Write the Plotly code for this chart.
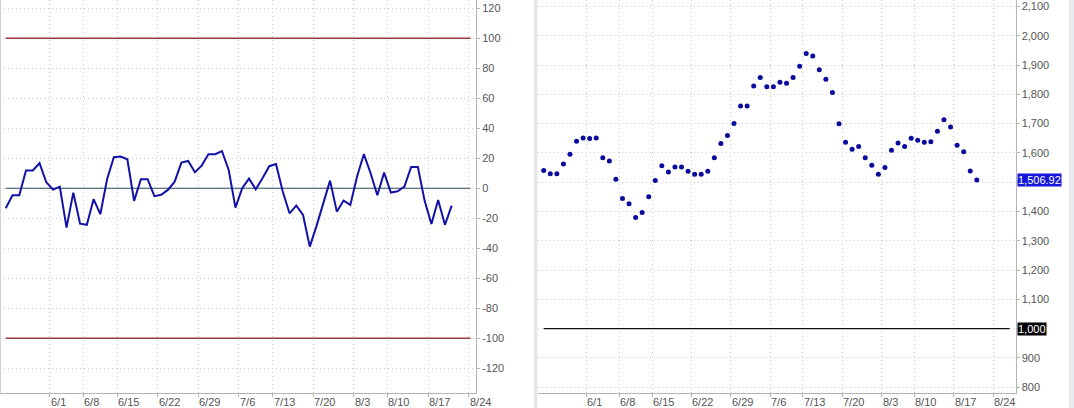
import plotly.graph_objects as go

# ---------------- data ----------------
tick_pos = [6.5, 11.5, 16.5, 22.5, 28.5, 34.5, 39.5, 45.5, 51.5, 56.5, 62.5, 68.5]
tick_labels = ["6/1", "6/8", "6/15", "6/22", "6/29", "7/6", "7/13", "7/20",
               "8/3", "8/10", "8/17", "8/24"]

osc_values = [-13.3, -4.7, -4.7, 11.8, 11.8, 16.7, 4.0, -0.9, 1.1, -26.2,
              -2.9, -23.6, -24.4, -7.3, -17.3, 6.0, 20.7, 21.1, 19.3, -8.4,
              6.0, 6.0, -5.3, -4.4, -1.1, 4.4, 17.1, 18.2, 10.7, 15.1,
              22.7, 22.7, 24.7, 12.2, -12.9, 0.0, 6.4, -0.7, 6.7, 14.7,
              16.2, -2.2, -16.7, -11.6, -17.8, -38.9, -25.1, -10.0, 5.1, -15.6,
              -8.2, -11.1, 7.8, 22.7, 10.0, -4.7, 10.4, -2.9, -2.0, 1.1,
              14.2, 14.2, -8.4, -23.8, -7.8, -24.4, -11.6]
osc_levels = [100, -100]
osc_zero = 0
osc_ticks = [120, 100, 80, 60, 40, 20, 0, -20, -40, -60, -80, -100, -120]

price_values = [1540, 1529, 1529, 1562, 1595, 1640, 1651, 1649, 1651, 1583,
                1572, 1510, 1444, 1426, 1379, 1396, 1450, 1506, 1556, 1535,
                1552, 1552, 1537, 1527, 1527, 1537, 1583, 1632, 1659, 1700,
                1760, 1760, 1828, 1857, 1826, 1826, 1841, 1838, 1857, 1896,
                1939, 1931, 1884, 1851, 1806, 1699, 1636, 1612, 1622, 1583,
                1558, 1527, 1550, 1609, 1634, 1622, 1650, 1643, 1636, 1638,
                1674, 1713, 1688, 1626, 1604, 1538, 1506.92]
price_ref = 1000
price_ticks = [2100, 2000, 1900, 1800, 1700, 1600, 1500, 1400, 1300, 1200,
               1100, 1000, 900, 800]
price_hidden_ticks = [1500, 1000]   # covered by the value badges

# ---------------- figure ----------------
W, H = 1074, 408
FONT = "Liberation Sans"
GRID = "#cccccc"
AX = "#b4b4b4"
TXT = "#555555"
DOT = "1px,3px"

x1 = list(range(len(osc_values)))
x2 = list(range(len(price_values)))

fig = go.Figure()

# reference lines (left)
line_end1 = len(osc_values) + 1.8
for lv in osc_levels:
    fig.add_trace(go.Scatter(x=[0, line_end1], y=[lv, lv], mode="lines",
                             line=dict(color="#9a3b3b", width=1.3),
                             xaxis="x", yaxis="y", hoverinfo="skip"))
fig.add_trace(go.Scatter(x=[0, line_end1], y=[osc_zero, osc_zero], mode="lines",
                         line=dict(color="#2d4a5a", width=1.1),
                         xaxis="x", yaxis="y", hoverinfo="skip"))
fig.add_trace(go.Scatter(x=x1, y=osc_values, mode="lines",
                         line=dict(color="#1212a6", width=2),
                         xaxis="x", yaxis="y"))

# right panel
line_end2 = len(price_values) + 4
fig.add_trace(go.Scatter(x=[0, line_end2], y=[price_ref, price_ref], mode="lines",
                         line=dict(color="#111111", width=1.2),
                         xaxis="x2", yaxis="y2", hoverinfo="skip"))
fig.add_trace(go.Scatter(x=x2, y=price_values, mode="markers",
                         marker=dict(color="#0a0a9c", size=5),
                         xaxis="x2", yaxis="y2"))

xcommon = dict(tickmode="array", tickvals=tick_pos, showticklabels=False,
               ticks="outside", ticklen=3, tickcolor=AX,
               showgrid=True, gridcolor=GRID, griddash=DOT, gridwidth=1,
               showline=True, linecolor=AX, linewidth=1, zeroline=False,
               fixedrange=True)
ycommon = dict(side="right", ticks="outside", ticklen=3, tickcolor=AX,
               showgrid=True, gridcolor=GRID, griddash=DOT, gridwidth=1,
               showline=True, linecolor=AX, linewidth=1, zeroline=False,
               tickfont=dict(family=FONT, size=11, color=TXT),
               tickmode="array", fixedrange=True)

fig.update_layout(
    width=W, height=H,
    margin=dict(l=0, r=0, t=0, b=0),
    paper_bgcolor="white", plot_bgcolor="white",
    showlegend=False,
    hovermode=False,
    xaxis=dict(domain=[0, 476 / W], range=[-0.85, 69.6], anchor="y", **xcommon),
    yaxis=dict(domain=[1 - 393.3 / H, 1], range=[-136.7, 125.5], anchor="x",
               tickvals=osc_ticks, ticktext=[str(v) for v in osc_ticks], **ycommon),
    xaxis2=dict(domain=[537.5 / W, 1015.5 / W], range=[-0.95, 71.9], anchor="y2",
                **xcommon),
    yaxis2=dict(domain=[1 - 392.7 / H, 1], range=[781, 2122], anchor="x2",
                tickvals=price_ticks,
                ticktext=["" if v in price_hidden_ticks else f"{v:,}" for v in price_ticks],
                **ycommon),
)

# x tick labels (left aligned at tick)
for xa in ["x", "x2"]:
    for p, lab in zip(tick_pos, tick_labels):
        fig.add_annotation(x=p, y=(H - 401.5) / H, xref=xa, yref="paper",
                           text=lab, showarrow=False, xanchor="left",
                           yanchor="middle", xshift=-1,
                           font=dict(family=FONT, size=11, color=TXT))

# value badges on right axis
fig.add_annotation(x=1017 / W, y=price_values[-1], xref="paper", yref="y2",
                   text=f"{price_values[-1]:,.2f}", showarrow=False,
                   xanchor="left", yanchor="middle", bgcolor="#1616dc",
                   borderpad=0, font=dict(family=FONT, size=11, color="white"))
fig.add_annotation(x=1017 / W, y=price_ref, xref="paper", yref="y2",
                   text=f"{price_ref:,}", showarrow=False,
                   xanchor="left", yanchor="middle", bgcolor="#000000",
                   borderpad=0, font=dict(family=FONT, size=11, color="white"))

# panel borders / separators
fig.add_shape(type="line", xref="paper", yref="paper", x0=0.5 / W, x1=0.5 / W,
              y0=1 - 393.3 / H, y1=1, line=dict(color="#d0d0d0", width=1))
fig.add_shape(type="rect", xref="paper", yref="paper", x0=534 / W, x1=537.5 / W,
              y0=0, y1=1, fillcolor="#e4e8ec", line=dict(width=0))
fig.add_shape(type="rect", xref="paper", yref="paper", x0=1069 / W, x1=1,
              y0=0, y1=1, fillcolor="#e8ecf0", line=dict(width=0))

fig.write_html("out.html",
               config={"displayModeBar": False},
               post_script="document.body.style.margin='0';"
                           "document.body.style.padding='0';"
                           "document.body.style.overflow='hidden';")
